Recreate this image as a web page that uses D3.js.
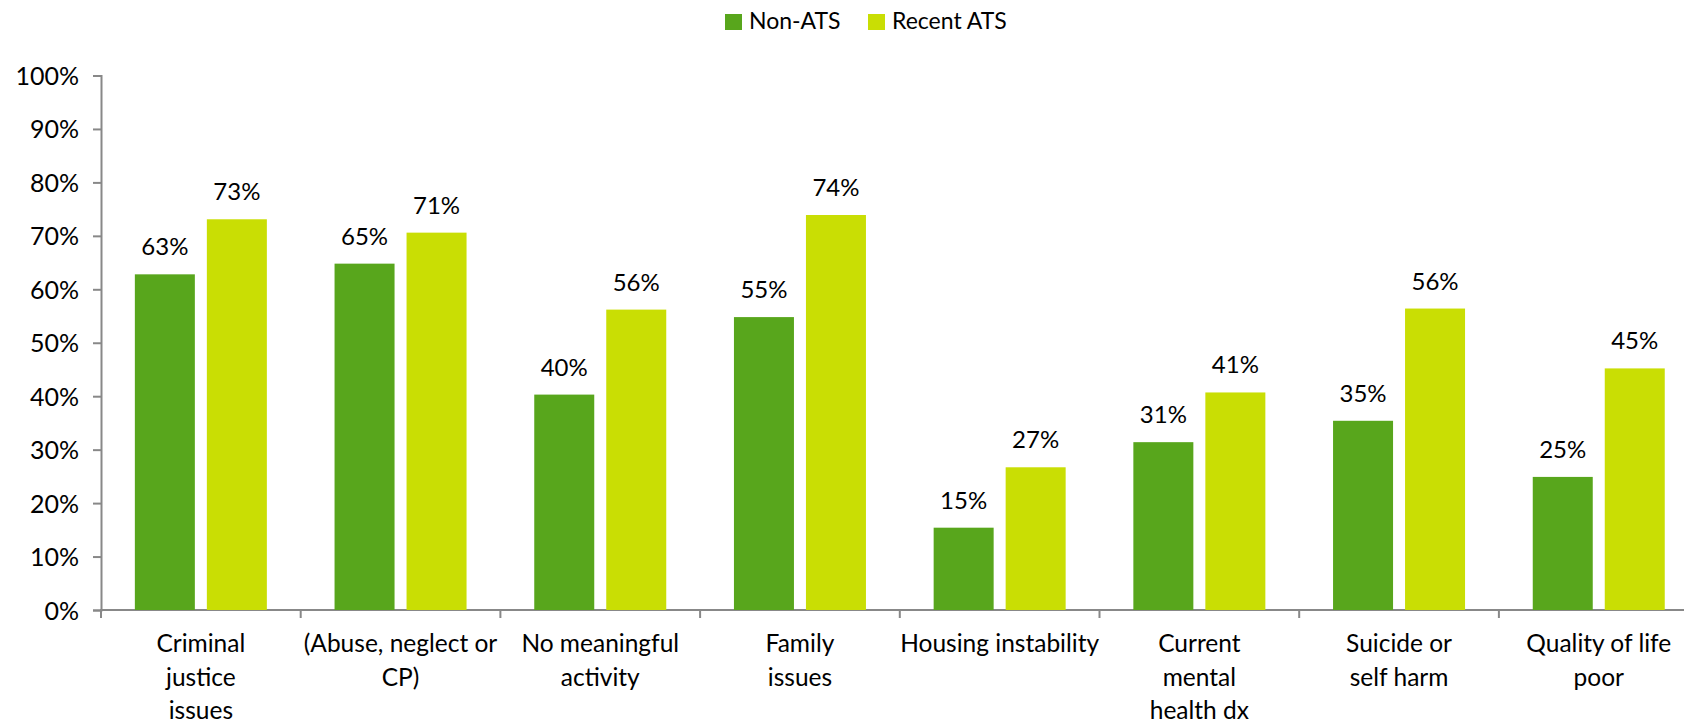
<!DOCTYPE html>
<html>
<head>
<meta charset="utf-8">
<script src="https://cdnjs.cloudflare.com/ajax/libs/d3/7.8.5/d3.min.js"></script>
<style>
  body { margin: 0; background: #fff; }
  svg { display: block; }
  text { font-family: Lato, "Open Sans", sans-serif; fill: #000; }
</style>
</head>
<body>
<script>
// categories (line breaks as in the source chart)
var categories = [
  ["Criminal", "justice", "issues"],
  ["(Abuse, neglect or", "CP)"],
  ["No meaningful", "activity"],
  ["Family", "issues"],
  ["Housing instability"],
  ["Current", "mental", "health dx"],
  ["Suicide or", "self harm"],
  ["Quality of life", "poor"]
];
var seriesNames = ["Non-ATS", "Recent ATS"];
var nonATS    = [62.8, 64.8, 40.3, 54.8, 15.4, 31.4, 35.4, 24.9];
var recentATS = [73.1, 70.6, 56.2, 73.9, 26.7, 40.7, 56.4, 45.2];
var yTicks = [0, 10, 20, 30, 40, 50, 60, 70, 80, 90, 100];

var colors = ["#58a61c", "#c9de04"];
var W = 1684, H = 722;

var svg = d3.select("body").append("svg")
  .attr("width", W).attr("height", H);

var x = d3.scaleBand()
  .domain(d3.range(categories.length))
  .range([101, 101 + 8 * 199.7]);

var y = d3.scaleLinear().domain([0, 100]).range([610, 75.5]);

var rows = categories.map(function(c, i) {
  return {i: i, vals: [nonATS[i], recentATS[i]]};
});

// y axis
var yAxis = svg.append("g")
  .attr("transform", "translate(101,0)")
  .call(d3.axisLeft(y).tickValues(yTicks).tickSize(8).tickPadding(14)
        .tickFormat(function(d) { return d + "%"; }));
yAxis.select(".domain").attr("stroke", "#888").attr("stroke-width", 2);
yAxis.selectAll(".tick line").attr("stroke", "#888").attr("stroke-width", 2);
yAxis.selectAll(".tick text")
  .style("font-size", "25px").attr("fill", "#000").attr("dy", "0.36em");

// x axis (ticks on band boundaries)
var xg = svg.append("g");
xg.append("line")
  .attr("x1", 100).attr("x2", W)
  .attr("y1", y(0)).attr("y2", y(0))
  .attr("stroke", "#888").attr("stroke-width", 2);
xg.selectAll("line.tk")
  .data(d3.range(categories.length))
  .enter().append("line").attr("class", "tk")
  .attr("x1", function(d) { return x(d); })
  .attr("x2", function(d) { return x(d); })
  .attr("y1", y(0)).attr("y2", y(0) + 8)
  .attr("stroke", "#888").attr("stroke-width", 2);

xg.selectAll("text.cat")
  .data(categories)
  .enter().append("text").attr("class", "cat")
  .attr("text-anchor", "middle")
  .style("font-size", "24.5px")
  .attr("transform", function(d, i) {
    return "translate(" + (x(i) + x.bandwidth() / 2) + ",652)";
  })
  .selectAll("tspan")
  .data(function(d) { return d; })
  .enter().append("tspan")
  .attr("x", 0)
  .attr("y", function(d, j) { return j * 33.5; })
  .text(function(d) { return d; });

// bars
var barW = 60, gap = 12;
var groups = svg.append("g").selectAll("g")
  .data(rows).enter().append("g")
  .attr("transform", function(d) {
    return "translate(" + (x(d.i) + x.bandwidth() / 2 - barW - gap / 2) + ",0)";
  });

groups.selectAll("rect")
  .data(function(d) { return d.vals; })
  .enter().append("rect")
  .attr("x", function(d, k) { return k * (barW + gap); })
  .attr("y", function(d) { return y(d); })
  .attr("width", barW)
  .attr("height", function(d) { return y(0) - y(d); })
  .attr("fill", function(d, k) { return colors[k]; });

groups.selectAll("text")
  .data(function(d) { return d.vals; })
  .enter().append("text")
  .attr("text-anchor", "middle")
  .style("font-size", "24px")
  .attr("x", function(d, k) { return k * (barW + gap) + barW / 2; })
  .attr("y", function(d) { return y(d) - 19; })
  .text(function(d) { return Math.round(d) + "%"; });

// legend
var legend = svg.append("g");
var legX = [725, 868];
seriesNames.forEach(function(name, k) {
  legend.append("rect")
    .attr("x", legX[k]).attr("y", 14)
    .attr("width", 17).attr("height", 16)
    .attr("fill", colors[k]);
  legend.append("text")
    .attr("x", legX[k] + 24).attr("y", 29)
    .style("font-size", "23px")
    .text(name);
});
</script>
</body>
</html>
